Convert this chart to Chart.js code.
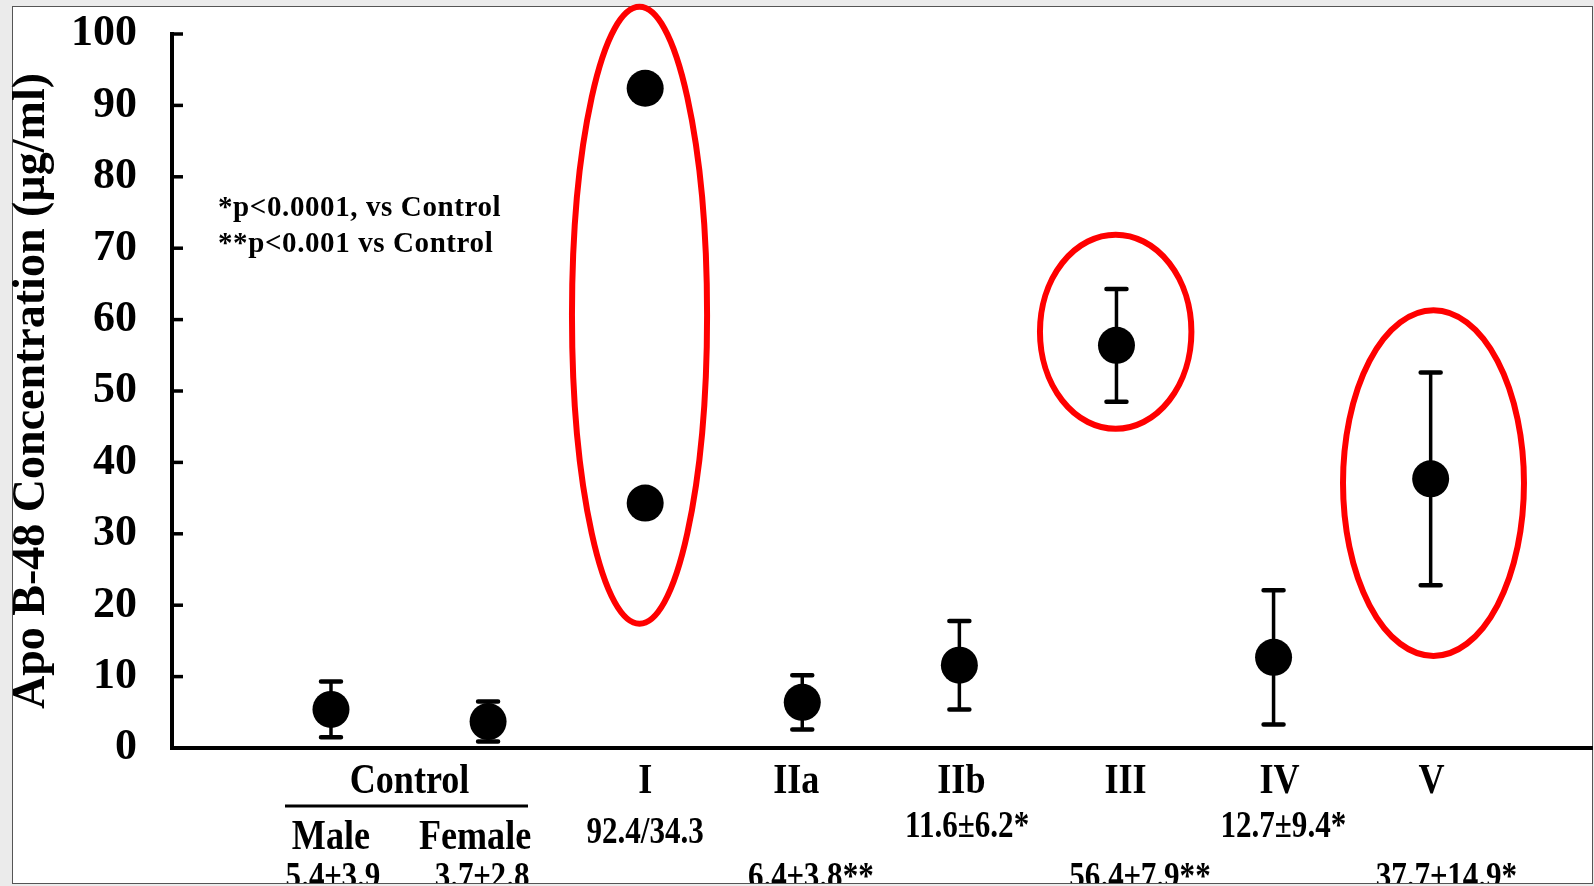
<!DOCTYPE html>
<html>
<head>
<meta charset="utf-8">
<script src="https://cdn.jsdelivr.net/npm/chart.js@4.4.1/dist/chart.umd.min.js"></script>
<style>
  html, body { margin: 0; padding: 0; background: #ebebeb; }
  canvas { display: block; }
</style>
</head>
<body>
<canvas id="c" width="1594" height="886"></canvas>
<script>
// ---------- data ----------
const categories = ['Male', 'Female', 'I', 'IIa', 'IIb', 'III', 'IV', 'V'];
const groupNames = ['Control', 'I', 'IIa', 'IIb', 'III', 'IV', 'V'];
const means = [5.4, 3.7, null, 6.4, 11.6, 56.4, 12.7, 37.7];
const sds = [3.9, 2.8, null, 3.8, 6.2, 7.9, 9.4, 14.9];
const typeIValues = [92.4, 34.3];
const statLabels = ['5.4±3.9', '3.7±2.8', '92.4/34.3', '6.4±3.8**', '11.6±6.2*', '56.4±7.9**', '12.7±9.4*', '37.7±14.9*'];
const notes = ['*p<0.0001, vs Control', '**p<0.001 vs Control'];
const yTitle = 'Apo B-48 Concentration (µg/ml)';
const yTickValues = [0, 10, 20, 30, 40, 50, 60, 70, 80, 90, 100];
const highlightedGroups = ['I', 'III', 'V'];

// ---------- build ----------
const FONT = "'Liberation Serif', 'Times New Roman', serif";
const points = [];
categories.forEach((c, i) => {
  if (means[i] !== null) points.push({ x: i + 1, y: means[i], sd: sds[i] });
});
typeIValues.forEach(v => points.push({ x: categories.indexOf('I') + 1, y: v, sd: null }));

// highlight ellipse geometry in data units (centre offset, half width, y range)
const ellipseShape = {
  'I':   { dx: -0.036, hw: 0.43,  y0: 17.4, y1: 103.8 },
  'III': { dx: -0.005, hw: 0.482, y0: 44.7, y1: 71.9 },
  'V':   { dx: 0.018,  hw: 0.576, y0: 12.9, y1: 61.3 }
};
// small horizontal nudges (px) of the text below the axis
const nameNudge = [0, -13, 0, -6, 2, 9, 6, 1];
const statNudge = [2, -6, 0, -7, 0, 8, 2, 8];

function squeezeText(ctx, text, x, y, font, sx, align) {
  ctx.save();
  ctx.font = font;
  ctx.translate(x, y);
  ctx.scale(sx, 1);
  ctx.textAlign = align || 'center';
  ctx.textBaseline = 'alphabetic';
  ctx.fillText(text, 0, 0);
  ctx.restore();
}

const framePlugin = {
  id: 'frame',
  beforeDraw(chart) {
    const ctx = chart.ctx;
    ctx.save();
    ctx.fillStyle = '#ebebeb';
    ctx.fillRect(0, 0, chart.width, chart.height);
    ctx.fillStyle = '#ffffff';
    ctx.fillRect(12, 6, 1580, 877);
    ctx.strokeStyle = '#555';
    ctx.lineWidth = 1;
    ctx.strokeRect(12.5, 6.5, 1580, 877);
    ctx.restore();
  }
};

const errorBarPlugin = {
  id: 'errorBars',
  beforeDatasetsDraw(chart) {
    const ctx = chart.ctx, xs = chart.scales.x, ys = chart.scales.y;
    ctx.save();
    ctx.strokeStyle = '#000';
    points.forEach(p => {
      if (p.sd === null) return;
      const px = xs.getPixelForValue(p.x);
      const top = ys.getPixelForValue(p.y + p.sd);
      const bot = ys.getPixelForValue(p.y - p.sd);
      ctx.lineWidth = 3.5;
      ctx.lineCap = 'butt';
      ctx.beginPath();
      ctx.moveTo(px, top); ctx.lineTo(px, bot);
      ctx.stroke();
      ctx.lineWidth = 4.5;
      ctx.lineCap = 'round';
      ctx.beginPath();
      ctx.moveTo(px - 10, top); ctx.lineTo(px + 10, top);
      ctx.moveTo(px - 10, bot); ctx.lineTo(px + 10, bot);
      ctx.stroke();
    });
    ctx.restore();
  }
};

const annotatePlugin = {
  id: 'annotate',
  afterDraw(chart) {
    const ctx = chart.ctx, xs = chart.scales.x, ys = chart.scales.y;
    ctx.save();
    // inward y tick marks
    ctx.strokeStyle = '#000';
    ctx.lineWidth = 3.5;
    ys.ticks.forEach(t => {
      const py = ys.getPixelForValue(t.value);
      ctx.beginPath();
      ctx.moveTo(xs.left, py);
      ctx.lineTo(xs.left + 11, py);
      ctx.stroke();
    });

    // red highlight ellipses
    ctx.strokeStyle = '#ff0000';
    ctx.lineWidth = 6;
    highlightedGroups.forEach(g => {
      const s = ellipseShape[g];
      const cxv = categories.indexOf(g) + 1 + s.dx;
      const cx = xs.getPixelForValue(cxv);
      const rx = xs.getPixelForValue(cxv + s.hw) - cx;
      const yTop = ys.getPixelForValue(s.y1), yBot = ys.getPixelForValue(s.y0);
      ctx.beginPath();
      ctx.ellipse(cx, (yTop + yBot) / 2, rx, (yBot - yTop) / 2, 0, 0, Math.PI * 2);
      ctx.stroke();
    });

    // notes
    ctx.fillStyle = '#000';
    ctx.font = 'bold 29px ' + FONT;
    ctx.textAlign = 'left';
    ctx.textBaseline = 'alphabetic';
    if ('letterSpacing' in ctx) ctx.letterSpacing = '0.6px';
    ctx.fillText(notes[0], 218, 216);
    ctx.fillText(notes[1], 218, 252);
    if ('letterSpacing' in ctx) ctx.letterSpacing = '0px';

    // category labels below axis (clipped by frame)
    ctx.beginPath();
    ctx.rect(12, 6, 1580, 877);
    ctx.clip();
    const xp = i => xs.getPixelForValue(i + 1);
    const bigFont = 'bold 43px ' + FONT;
    const statFont = 'bold 37px ' + FONT;
    const sx = 0.84;
    // row 1: group names
    const ctrlX = (xp(0) + xp(1)) / 2;
    squeezeText(ctx, groupNames[0], ctrlX, 793, bigFont, sx);
    for (let i = 2; i < categories.length; i++) {
      squeezeText(ctx, categories[i], xp(i) + nameNudge[i], 793, bigFont, sx);
    }
    // underline for Control
    ctx.strokeStyle = '#000';
    ctx.lineWidth = 3;
    ctx.beginPath();
    ctx.moveTo(285, 806); ctx.lineTo(528, 806);
    ctx.stroke();
    // row 2: Male / Female
    squeezeText(ctx, categories[0], xp(0) + nameNudge[0], 849, bigFont, sx);
    squeezeText(ctx, categories[1], xp(1) + nameNudge[1], 849, bigFont, sx);
    // stats (alternating levels)
    const statY = [888, 888, 843, 888, 837, 888, 837, 888];
    statLabels.forEach((s, i) => {
      const base = s.replace(/\*+$/, '');
      ctx.font = statFont;
      const w = ctx.measureText(base).width * sx;
      squeezeText(ctx, s, xp(i) - w / 2 + statNudge[i], statY[i], statFont, sx, 'left');
    });
    ctx.restore();
  }
};

new Chart(document.getElementById('c'), {
  type: 'scatter',
  data: {
    datasets: [{
      data: points,
      backgroundColor: '#000',
      borderColor: '#000',
      pointRadius: 18.5,
      pointHoverRadius: 18.5,
      borderWidth: 0
    }]
  },
  options: {
    responsive: false,
    animation: false,
    events: [],
    layout: { autoPadding: false, padding: { left: 5, top: 34, right: 2, bottom: 0 } },
    plugins: { legend: { display: false }, tooltip: { enabled: false } },
    scales: {
      x: {
        type: 'linear',
        min: -0.012,
        max: 9.027,
        grid: { display: false },
        border: { display: true, color: '#000', width: 4 },
        ticks: { display: false },
        afterFit(scale) {
          scale.height = 138;
          scale.paddingLeft = 0; scale.paddingRight = 0;
        }
      },
      y: {
        type: 'linear',
        min: 0,
        max: 100,
        afterBuildTicks(scale) { scale.ticks = yTickValues.map(v => ({ value: v })); },
        grid: { display: false },
        border: { display: true, color: '#000', width: 4 },
        ticks: {
          color: '#000',
          padding: 27,
          font: { family: FONT, size: 44, weight: 'bold' }
        },
        title: {
          display: true,
          text: yTitle,
          color: '#000',
          padding: { top: 2, bottom: 0 },
          font: { family: FONT, size: 46, weight: 'bold', lineHeight: 1.1 }
        },
        afterFit(scale) {
          scale.width = 167;
          scale.paddingTop = 0; scale.paddingBottom = 0;
        }
      }
    }
  },
  plugins: [framePlugin, errorBarPlugin, annotatePlugin]
});
</script>
</body>
</html>
